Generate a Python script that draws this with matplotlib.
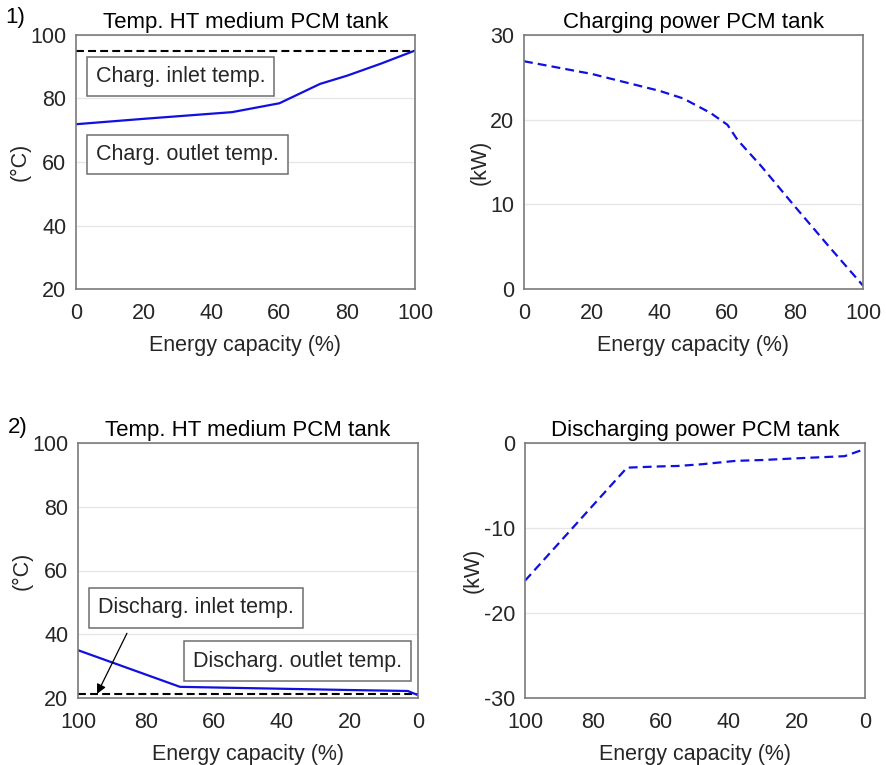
import matplotlib

matplotlib.use("Agg")
import matplotlib.pyplot as plt

plt.rcParams["font.family"] = ["Liberation Sans", "DejaVu Sans"]
plt.rcParams["axes.unicode_minus"] = False

# 1) charging
charge_cap = [0, 20, 46, 60, 72, 80, 90, 100]
charge_outlet = [71.9, 73.6, 75.7, 78.5, 84.6, 87.2, 91.0, 95.1]
charge_inlet_cap = [0, 100]
charge_inlet = [95.0, 95.0]

charge_power_cap = [0, 20, 40, 47, 55, 60, 63, 70, 80, 90, 100]
charge_power = [26.9, 25.4, 23.4, 22.5, 20.8, 19.4, 17.6, 14.5, 9.7, 5.0, 0.4]

# 2) discharging
discharge_cap = [100, 70, 40, 20, 3, 0]
discharge_outlet = [35.0, 23.5, 22.9, 22.5, 22.2, 20.9]
discharge_inlet_cap = [100, 0]
discharge_inlet = [21.1, 21.1]

discharge_power_cap = [100, 70, 60, 55, 48, 38, 30, 20, 6, 0]
discharge_power = [-16.2, -2.9, -2.75, -2.7, -2.5, -2.1, -2.0, -1.8, -1.55, -0.7]

LINE_BLUE = "#1010e0"
TEXT = "#262626"
SPINE = "#7a7a7a"
DASH_K = (0, (3.8, 2.0))
DASH_B = (0, (4.0, 2.3))


def style_axes(ax, title, ylabel, ylim, yticks, xlim):
    ax.set_title(title, fontsize=16, color="black", pad=5)
    ax.set_ylabel(ylabel, fontsize=15.5, color=TEXT, labelpad=0)
    ax.set_xlabel("Energy capacity (%)", fontsize=15.5, color=TEXT, labelpad=8)
    ax.set_xlim(*xlim)
    ax.set_ylim(*ylim)
    ax.set_yticks(yticks)
    ax.set_xticks([0, 20, 40, 60, 80, 100])
    ax.tick_params(length=0, labelsize=15.5, labelcolor=TEXT)
    ax.tick_params(axis="x", pad=10)
    ax.tick_params(axis="y", pad=7)
    ax.grid(axis="y", color="#e6e6e6", linewidth=1)
    ax.set_axisbelow(True)
    for spine in ax.spines.values():
        spine.set_color(SPINE)
        spine.set_linewidth(1.2)


box = dict(boxstyle="square,pad=0.42", facecolor="white", edgecolor="#6e6e6e", linewidth=1.1)

fig = plt.figure(figsize=(8.87, 7.65), dpi=100)
ax1 = fig.add_axes([76 / 887, 1 - 289 / 765, 339 / 887, 254 / 765])
ax2 = fig.add_axes([524 / 887, 1 - 289 / 765, 339 / 887, 254 / 765])
ax3 = fig.add_axes([78 / 887, 1 - 698 / 765, 340 / 887, 255 / 765])
ax4 = fig.add_axes([525 / 887, 1 - 698 / 765, 340 / 887, 255 / 765])

# top left
ax1.plot(charge_inlet_cap, charge_inlet, color="black", linestyle=DASH_K, linewidth=1.5)
ax1.plot(charge_cap, charge_outlet, color=LINE_BLUE, linewidth=1.6)
style_axes(ax1, "Temp. HT medium PCM tank", "(°C)", (20, 100), [20, 40, 60, 80, 100], (0, 100))
ax1.text(0.058, 0.838, "Charg. inlet temp.", transform=ax1.transAxes, fontsize=15.5,
         color=TEXT, va="center", ha="left", bbox=box)
ax1.text(0.06, 0.53, "Charg. outlet temp.", transform=ax1.transAxes, fontsize=15.5,
         color=TEXT, va="center", ha="left", bbox=box)

# top right
ax2.plot(charge_power_cap, charge_power, color=LINE_BLUE, linestyle=DASH_B, linewidth=1.6)
style_axes(ax2, "Charging power PCM tank", "(kW)", (0, 30), [0, 10, 20, 30], (0, 100))

# bottom left
ax3.plot(discharge_inlet_cap, discharge_inlet, color="black", linestyle=DASH_K, linewidth=1.5)
ax3.plot(discharge_cap, discharge_outlet, color=LINE_BLUE, linewidth=1.6)
style_axes(ax3, "Temp. HT medium PCM tank", "(°C)", (20, 100), [20, 40, 60, 80, 100], (100, 0))
ax3.text(0.058, 0.353, "Discharg. inlet temp.", transform=ax3.transAxes, fontsize=15.5,
         color=TEXT, va="center", ha="left", bbox=box)
ax3.text(0.952, 0.145, "Discharg. outlet temp.", transform=ax3.transAxes, fontsize=15.5,
         color=TEXT, va="center", ha="right", bbox=box)
ax3.annotate("", xy=(94.4, 21.3), xytext=(85.6, 40.3),
             arrowprops=dict(arrowstyle="-|>", color="black", linewidth=0.9,
                             mutation_scale=14, shrinkA=0, shrinkB=0))

# bottom right
ax4.plot(discharge_power_cap, discharge_power, color=LINE_BLUE, linestyle=DASH_B, linewidth=1.6)
style_axes(ax4, "Discharging power PCM tank", "(kW)", (-30, 0), [-30, -20, -10, 0], (100, 0))

fig.text(5 / 887, 1 - 18 / 765, "1)", fontsize=16, color="black", va="center", ha="left")
fig.text(8 / 887, 1 - 427 / 765, "2)", fontsize=16, color="black", va="center", ha="left")

fig.savefig("out.png", dpi=100)
